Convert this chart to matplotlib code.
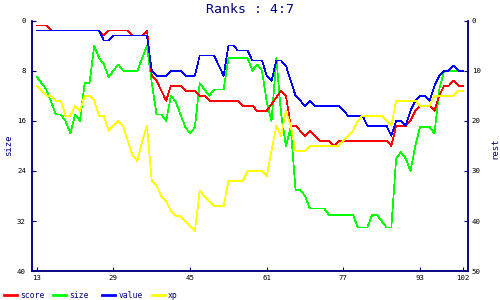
import matplotlib
matplotlib.use('Agg')
import matplotlib.pyplot as plt
from matplotlib.lines import Line2D

NAVY = '#000080'

# score, value and xp use the right "rest" axis, size the left one
score_x = [13, 15, 16, 26, 27, 28, 32, 33, 35, 36, 37, 38, 39, 40, 41, 43, 44, 46, 47, 48,
           49, 55, 56, 58, 59, 61, 64, 65, 66, 67, 69, 70, 72, 74, 75, 76, 86, 87, 88, 90,
           91, 92, 93, 95, 96, 97, 98, 99, 100, 101, 102]
score = [1, 1, 2, 2, 3, 2, 2, 3, 3, 2, 11, 12, 14, 16, 13, 13, 14, 14, 15, 15,
         16, 16, 17, 17, 18, 18, 14, 15, 21, 21, 23, 22, 24, 24, 25, 24, 24, 25, 21, 21,
         20, 18, 17, 17, 18, 15, 13, 13, 12, 13, 13]

size_x = list(range(13, 103))
size = [9, 10, 11, 13, 15, 15, 16, 18, 15, 16,
        10, 10, 4, 6, 7, 9, 8, 7, 8, 8,
        8, 8, 6, 4, 10, 15, 15, 16, 12, 13,
        15, 17, 18, 17, 10, 11, 12, 11, 11, 11,
        6, 6, 6, 6, 6, 8, 7, 8, 13, 16,
        6, 15, 20, 17, 27, 27, 28, 30, 30, 30,
        30, 31, 31, 31, 31, 31, 31, 33, 33, 33,
        31, 31, 32, 33, 33, 22, 21, 22, 24, 20,
        17, 17, 17, 18, 11, 8, 8, 8, 8, 8]

value_x = [13, 26, 27, 28, 29, 36, 37, 38, 40, 41, 43, 44, 46, 47, 50, 52, 53, 54, 55, 57,
           58, 60, 61, 62, 63, 64, 65, 66, 67, 68, 69, 70, 71, 76, 77, 78, 81, 82, 86, 87,
           88, 89, 90, 91, 92, 93, 94, 95, 96, 97, 98, 99, 100, 101, 102]
value = [2, 2, 4, 4, 3, 3, 10, 11, 11, 10, 10, 11, 11, 7, 7, 11, 5, 5, 6, 6,
         8, 8, 11, 12, 8, 8, 9, 12, 15, 16, 17, 16, 17, 17, 18, 19, 19, 21, 21, 23,
         20, 20, 21, 18, 16, 15, 15, 16, 13, 11, 10, 10, 9, 10, 10]

xp_x = list(range(13, 103))
xp = [13, 14, 15, 15, 16, 16, 19, 19, 17, 18,
      15, 15, 16, 19, 19, 22, 21, 20, 21, 24,
      27, 28, 24, 21, 32, 33, 35, 36, 38, 39,
      39, 40, 41, 42, 34, 35, 36, 37, 37, 37,
      32, 32, 32, 32, 30, 30, 30, 30, 31, 26,
      21, 23, 18, 21, 26, 26, 26, 25, 25, 25,
      25, 25, 25, 25, 24, 23, 22, 20, 19, 19,
      19, 19, 19, 20, 21, 16, 16, 16, 16, 16,
      17, 17, 17, 15, 15, 15, 15, 15, 14, 14]

x_ticks = [13, 29, 45, 61, 77, 93, 102]

plt.rcParams['font.family'] = 'DejaVu Sans Mono'

fig = plt.figure(figsize=(5, 3), dpi=100)
ax = fig.add_axes([32 / 500, 28.7 / 300, 436 / 500, 250.8 / 300])
ax2 = ax.twinx()

ax.plot(size_x, size, color='#00ff00', lw=0.5, antialiased=False)
ax2.plot(score_x, score, color='#ff0000', lw=0.5, antialiased=False)
ax2.plot(value_x, value, color='#0000ff', lw=0.5, antialiased=False)
ax2.plot(xp_x, xp, color='#ffff00', lw=0.5, antialiased=False)

ax.set_xlim(12, 103)
ax.set_ylim(40, 0)
ax2.set_ylim(50, 0)
ax.set_xticks(x_ticks)
ax.set_yticks(range(0, 41, 8))
ax2.set_yticks(range(0, 51, 10))

for a in (ax, ax2):
    a.spines['top'].set_visible(False)
    for s in ('left', 'right', 'bottom'):
        a.spines[s].set_color(NAVY)
        a.spines[s].set_linewidth(1.1)
    a.tick_params(direction='in', length=3, width=0.8, color=NAVY,
                  labelsize=5.3, labelcolor='black')
ax.tick_params(axis='y', pad=4.3)
ax.tick_params(axis='x', pad=3)
ax2.tick_params(axis='y', pad=2.7)

fig.text(0.5, 1 - 12.7 / 300, 'Ranks : 4:7', ha='center', va='baseline',
         fontsize=9.5, color=NAVY)
fig.text(8.3 / 500, 1 - 145 / 300, 'size', rotation=90, ha='center', va='center',
         fontsize=6.5, color=NAVY)
fig.text(495 / 500, 1 - 148 / 300, 'rest', rotation=90, ha='center', va='center',
         fontsize=6.5, color=NAVY)

# legend row along the bottom edge
names = ['score', 'size', 'value', 'xp']
colors = ['#ff0000', '#00ff00', '#0000ff', '#ffff00']
ly = (300 - 295.3) / 300
for i, (name, col) in enumerate(zip(names, colors)):
    x0 = 4 + 49.2 * i
    fig.add_artist(Line2D([x0 / 500, (x0 + 13) / 500], [ly, ly],
                          transform=fig.transFigure, color=col, lw=2))
    fig.text((x0 + 16) / 500, ly, name, va='center', fontsize=5.8, color=NAVY)

fig.savefig('out.png', dpi=100)
